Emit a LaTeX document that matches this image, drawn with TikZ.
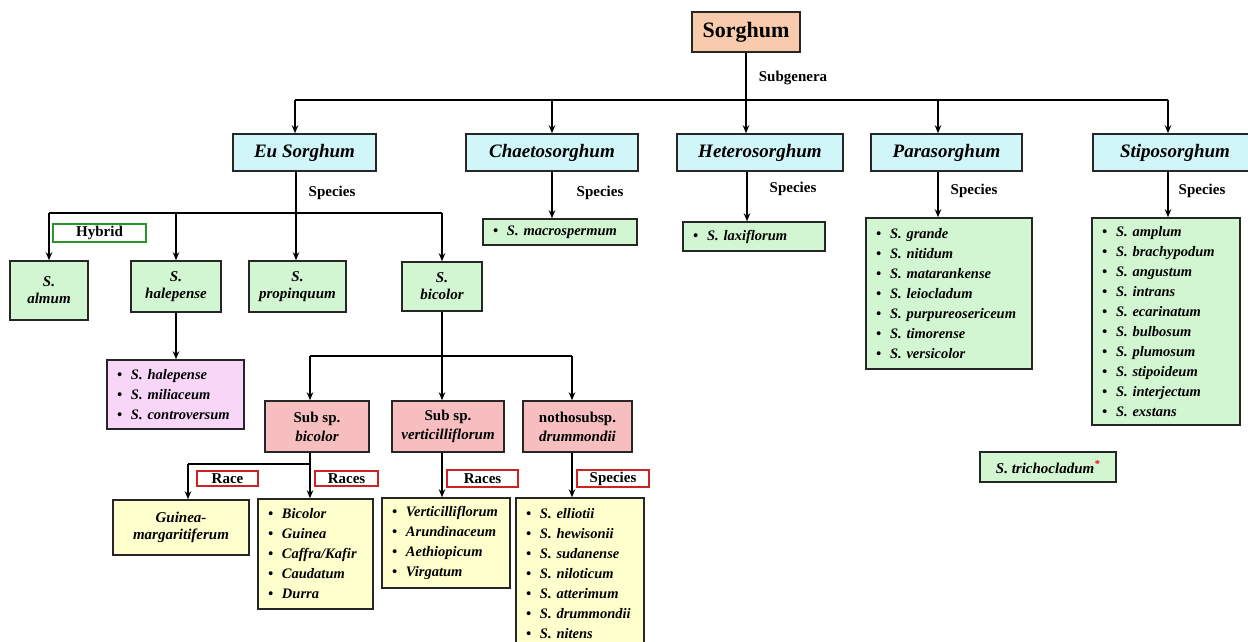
\documentclass[tikz,border=0pt]{standalone}
\usepackage{fontspec}
\setmainfont{Liberation Serif}
\usetikzlibrary{arrows.meta}
\definecolor{peach}{RGB}{248,203,173}
\definecolor{genusblue}{RGB}{208,246,250}
\definecolor{taxgreen}{RGB}{210,246,210}
\definecolor{lilac}{RGB}{248,214,248}
\definecolor{salmon}{RGB}{246,190,190}
\definecolor{paleyellow}{RGB}{255,255,206}
\definecolor{tagred}{RGB}{205,35,35}
\definecolor{taggreen}{RGB}{40,150,40}
\newcommand\itm[1]{\makebox[14pt][l]{\textbullet}#1}
\tikzset{
  cell/.style={draw=black!85, line width=1.5pt, inner sep=0pt, align=center},
  genus/.style={cell, fill=genusblue, minimum height=37pt, font=\fontsize{19}{22}\selectfont\bfseries\itshape},
  taxon/.style={cell, fill=taxgreen, font=\fontsize{15}{17}\selectfont\bfseries\itshape},
  subsp/.style={cell, fill=salmon, minimum height=51pt, font=\fontsize{15}{19}\selectfont\bfseries},
  spplist/.style={cell, align=left, inner xsep=10pt, text width=#1, font=\fontsize{14.5}{20}\selectfont\bfseries\itshape},
  tagbox/.style={draw=#1, line width=1.3pt, fill=white, inner sep=0pt, minimum height=16pt, font=\fontsize{15}{16}\selectfont\bfseries},
  lbl/.style={font=\fontsize{15}{17}\selectfont\bfseries},
  link/.style={line width=1.8pt},
  arr/.style={link, -{Stealth[length=8pt, width=6.5pt]}},
}

\begin{document}
\begin{tikzpicture}[x=1pt, y=-1pt]
        \useasboundingbox [fill=white] (0, 0) rectangle (1248, 641);

        \node [cell, fill=peach, minimum width=108pt, minimum height=40pt, font=\fontsize{22}{26}\selectfont\bfseries] (sorghum) at (746, 32) {Sorghum};
        \node [lbl] (subgenera) at (793, 78) {Subgenera};

        \node [genus, minimum width=143pt] (eu) at (304.5, 152.5) {Eu Sorghum};
        \node [genus, minimum width=172pt] (chaeto) at (552, 152.5) {Chaetosorghum};
        \node [genus, minimum width=166pt] (hetero) at (760, 152.5) {Heterosorghum};
        \node [genus, minimum width=151pt] (para) at (946.5, 152.5) {Parasorghum};
        \node [genus, minimum width=164pt] (stipo) at (1175, 152.5) {Stiposorghum};

        \coordinate (sgL) at (295, 100);
        \coordinate (sgP) at (938, 100);
        \coordinate (sgR) at (1168, 100);
        \draw [link] (sgL) -- (sgR);
        \draw [arr] (sorghum) -- (sorghum |- hetero.north);
        \draw [arr] (sgL) -- (sgL |- eu.north);
        \draw [arr] (chaeto |- sgL) -- (chaeto.north);
        \draw [arr] (sgP) -- (sgP |- para.north);
        \draw [arr] (sgR) -- (sgR |- stipo.north);

        \node [lbl] (spEu) at (332, 193) {Species};
        \node [lbl] (spChaeto) at (600, 193) {Species};
        \node [lbl] (spHetero) at (793, 189) {Species};
        \node [lbl] (spPara) at (974, 191) {Species};
        \node [lbl] (spStipo) at (1202, 191) {Species};

        \node [spplist=134pt, fill=taxgreen, minimum height=26pt] (macro) at (560, 232) {\itm{S. macrospermum}};
        \node [spplist=122pt, fill=taxgreen, minimum height=29pt] (laxi) at (754, 236.5) {\itm{S. laxiflorum}};
        \node [spplist=146pt, fill=taxgreen, minimum height=151pt] (paralist) at (949, 293.5)
          {\itm{S. grande}\\ \itm{S. nitidum}\\ \itm{S. matarankense}\\ \itm{S. leiocladum}\\ \itm{S. purpureosericeum}\\ \itm{S. timorense}\\ \itm{S. versicolor}};
        \node [spplist=128pt, fill=taxgreen, minimum height=207pt] (stipolist) at (1166, 321.5)
          {\itm{S. amplum}\\ \itm{S. brachypodum}\\ \itm{S. angustum}\\ \itm{S. intrans}\\ \itm{S. ecarinatum}\\ \itm{S. bulbosum}\\ \itm{S. plumosum}\\ \itm{S. stipoideum}\\ \itm{S. interjectum}\\ \itm{S. exstans}};

        \draw [arr] (chaeto) -- (chaeto |- macro.north);
        \draw [arr] (hetero.south -| 747, 0) -- (laxi.north -| 747, 0);
        \draw [arr] (sgP |- para.south) -- (sgP |- paralist.north);
        \draw [arr] (sgR |- stipo.south) -- (sgR |- stipolist.north);

        \node [taxon, minimum width=78pt, minimum height=59pt] (almum) at (49, 290.5) {S.\\almum};
        \node [taxon, minimum width=90pt, minimum height=51pt] (halep) at (176, 286.5) {S.\\halepense};
        \node [taxon, minimum width=97pt, minimum height=51pt] (propinq) at (297.5, 286.5) {S.\\propinquum};
        \node [taxon, minimum width=80pt, minimum height=49pt] (bicolor) at (442, 286.5) {S.\\bicolor};
        \node [tagbox=taggreen, minimum width=93pt, minimum height=18pt] (hybrid) at (99.5, 233) {Hybrid};

        \coordinate (euS) at (296, 213);
        \draw [link] (euS |- eu.south) -- (euS);
        \draw [link] (almum |- euS) -- (bicolor |- euS);
        \draw [arr] (almum |- euS) -- (almum.north);
        \draw [arr] (halep |- euS) -- (halep.north);
        \draw [arr] (euS) -- (euS |- propinq.north);
        \draw [arr] (bicolor |- euS) -- (bicolor.north);

        \node [spplist=117pt, fill=lilac, minimum height=69pt] (haleplist) at (175.5, 394.5)
          {\itm{S. halepense}\\ \itm{S. miliaceum}\\ \itm{S. controversum}};
        \draw [arr] (halep) -- (halep |- haleplist.north);

        \node [subsp, minimum width=104pt] (ssbic) at (317, 426.5) {Sub sp.\\\textit{bicolor}};
        \node [subsp, minimum width=112pt] (ssver) at (448, 426.5) {Sub sp.\\\textit{verticilliflorum}};
        \node [subsp, minimum width=109pt] (notho) at (577.5, 426.5) {nothosubsp.\\\textit{drummondii}};

        \coordinate (bcL) at (310, 356);
        \coordinate (bcR) at (572, 356);
        \draw [link] (bicolor) -- (bicolor |- bcL);
        \draw [link] (bcL) -- (bcR);
        \draw [arr] (bcL) -- (bcL |- ssbic.north);
        \draw [arr] (bicolor |- bcL) -- (bicolor |- ssver.north);
        \draw [arr] (bcR) -- (bcR |- notho.north);

        \node [cell, fill=paleyellow, minimum width=136pt, minimum height=55pt, font=\fontsize{15}{17}\selectfont\bfseries\itshape] (guinea) at (181, 527.5) {Guinea-\\margaritiferum};
        \node [spplist=95pt, fill=paleyellow, minimum height=110pt] (bicraces) at (315.5, 554)
          {\itm{Bicolor}\\ \itm{Guinea}\\ \itm{Caffra/Kafir}\\ \itm{Caudatum}\\ \itm{Durra}};
        \node [spplist=108pt, fill=paleyellow, minimum height=90pt] (verraces) at (446, 543)
          {\itm{Verticilliflorum}\\ \itm{Arundinaceum}\\ \itm{Aethiopicum}\\ \itm{Virgatum}};
        \node [spplist=108pt, fill=paleyellow, minimum height=152pt] (nothospp) at (580, 574)
          {\itm{S. elliotii}\\ \itm{S. hewisonii}\\ \itm{S. sudanense}\\ \itm{S. niloticum}\\ \itm{S. atterimum}\\ \itm{S. drummondii}\\ \itm{S. nitens}};

        \coordinate (rcL) at (188, 464);
        \draw [link] (bcL |- ssbic.south) -- (bcL |- rcL) -- (rcL);
        \draw [arr] (rcL) -- (rcL |- guinea.north);
        \draw [arr] (bcL |- rcL) -- (bcL |- bicraces.north);
        \draw [arr] (ssver.south -| 442, 0) -- (verraces.north -| 442, 0);
        \draw [arr] (bcR |- notho.south) -- (bcR |- nothospp.north);

        \node [tagbox=tagred, minimum width=61pt, minimum height=15pt] (race) at (227.5, 478.5) {Race};
        \node [tagbox=tagred, minimum width=63pt, minimum height=15pt] (racesBic) at (346.5, 478.5) {Races};
        \node [tagbox=tagred, minimum width=71pt, minimum height=17pt] (racesVer) at (482.5, 478.5) {Races};
        \node [tagbox=tagred, minimum width=72pt, minimum height=17pt] (spNotho) at (613, 478.5) {Species};

        \node [taxon, minimum width=136pt, minimum height=30pt] (tricho) at (1048, 467) {S. trichocladum\textsuperscript{\color{red}*}};
      \end{tikzpicture}
\end{document}
